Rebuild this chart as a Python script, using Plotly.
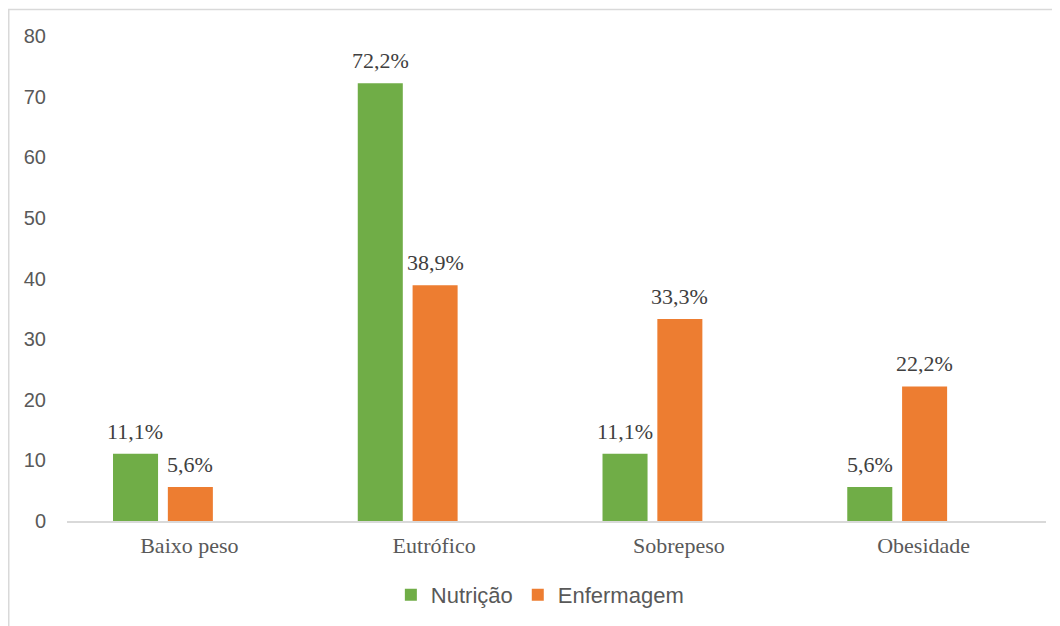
import plotly.graph_objects as go

categories = ["Baixo peso", "Eutrófico", "Sobrepeso", "Obesidade"]
nutricao = [11.1, 72.2, 11.1, 5.6]
enfermagem = [5.6, 38.9, 33.3, 22.2]
series_names = ["Nutrição", "Enfermagem"]

GREEN = "#70AD47"
ORANGE = "#ED7D31"
BAR_W = 0.184
OFFSETS = [-0.312, -0.088]
CAT_PX = 245  # approx pixel width of a category slot

fig = go.Figure()
for name, vals, col, off in zip(series_names, [nutricao, enfermagem], [GREEN, ORANGE], OFFSETS):
    fig.add_trace(go.Bar(
        x=categories, y=vals, name=name,
        marker=dict(color=col, line=dict(width=0)),
        width=BAR_W, offset=off,
    ))
    for c, v in zip(categories, vals):
        fig.add_annotation(
            x=c, y=v, xref="x", yref="y",
            text=f"{v:.1f}%".replace(".", ","),
            showarrow=False, yanchor="bottom",
            xshift=(off + BAR_W / 2) * CAT_PX, yshift=8,
            font=dict(family="Liberation Serif", size=22, color="#404040"),
        )

fig.add_shape(type="rect", xref="paper", yref="paper",
              x0=-0.0595, x1=1.05, y0=-0.3, y1=1.0545,
              line=dict(color="#d9d9d9", width=1.5), layer="below")

fig.update_layout(
    width=1060, height=626,
    margin=dict(l=59, r=22, t=28, b=113),
    paper_bgcolor="white", plot_bgcolor="white",
    barmode="overlay",
    showlegend=True,
    legend=dict(orientation="h", x=0.483, xanchor="center", y=-0.1526, yanchor="middle",
                font=dict(family="Liberation Sans", size=22, color="#595959"),
                itemwidth=30, traceorder="normal"),
    xaxis=dict(showline=True, linecolor="#d9d9d9", linewidth=2, ticks="",
               showgrid=False, zeroline=False, ticklabelstandoff=4,
               tickfont=dict(family="Liberation Serif", size=22, color="#595959")),
    yaxis=dict(range=[0, 80], dtick=10, showgrid=False, zeroline=False,
               showline=False, ticks="", ticklabelstandoff=20,
               tickfont=dict(family="Liberation Sans", size=20, color="#595959")),
)

fig.write_html("out.html")
